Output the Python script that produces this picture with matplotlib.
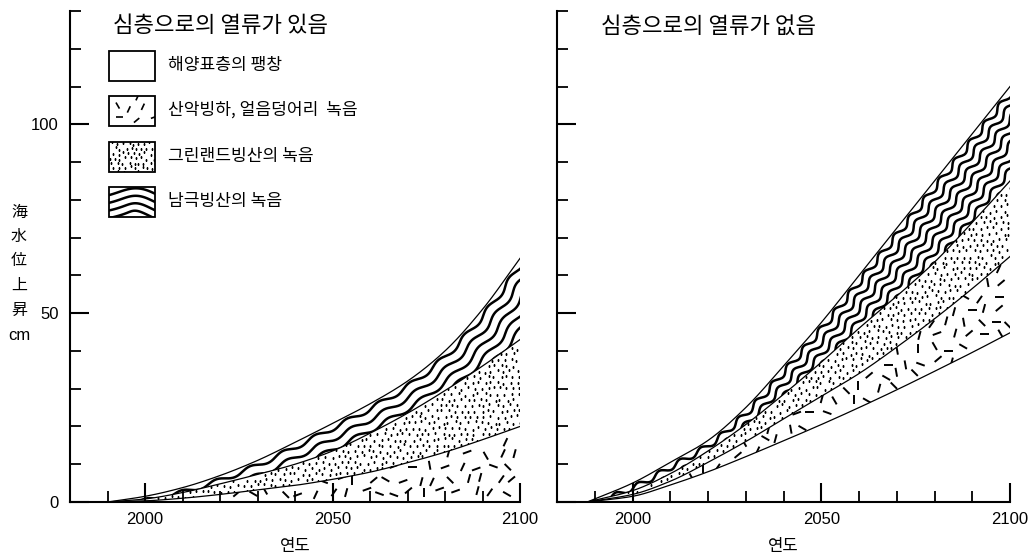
import numpy as np
import matplotlib
matplotlib.use("Agg")
import matplotlib.pyplot as plt
from matplotlib.path import Path
from matplotlib.collections import LineCollection
from matplotlib.patches import Rectangle
from matplotlib import font_manager

# ---------------- data (cumulative sea-level rise, cm) ----------------
years_left = [1990, 2000, 2010, 2020, 2030, 2040, 2050, 2060, 2070, 2080, 2090, 2100]
left_thermal_top = [0, 0, 0, 0, 0, 0, 0, 0, 0, 0, 0, 0]
left_glacier_top = [0, 0.3, 1.0, 2.0, 3.2, 4.4, 6.0, 7.9, 10.4, 13.2, 16.5, 20.0]
left_greenland_top = [0, 0.8, 2.5, 4.8, 7.3, 10.0, 13.5, 18.2, 23.5, 29.5, 36.0, 43.0]
left_antarctic_top = [0, 1.5, 3.8, 7.0, 11.0, 15.8, 20.8, 26.0, 32.0, 40.0, 51.0, 64.5]

years_right = [1988, 2000, 2010, 2020, 2030, 2040, 2050, 2060, 2070, 2080, 2090, 2100]
right_thermal_top = [0, 1.5, 4.5, 8.0, 12.0, 16.2, 20.5, 25.0, 29.7, 34.6, 39.6, 44.8]
right_glacier_top = [0, 2.0, 5.5, 10.5, 16.0, 22.0, 28.0, 34.0, 41.0, 48.5, 56.5, 65.0]
right_greenland_top = [0, 3.0, 7.5, 13.5, 20.5, 28.5, 37.0, 46.0, 54.5, 63.5, 74.0, 85.0]
right_antarctic_top = [0, 5.0, 10.5, 16.3, 25.0, 36.0, 47.5, 60.0, 72.5, 85.0, 97.5, 110.0]

titles = ["심층으로의 열류가 있음", "심층으로의 열류가 없음"]
legend_labels = ["해양표층의 팽창", "산악빙하, 얼음덩어리  녹음", "그린랜드빙산의 녹음", "남극빙산의 녹음"]
ylabel_chars = ["海", "水", "位", "上", "昇"]
ylabel_unit = "cm"
xlabel = "연도"
x_major = [2000, 2050, 2100]
y_major = [0, 50, 100]

# ---------------- fonts ----------------
avail = {f.name for f in font_manager.fontManager.ttflist}
KR = ["Noto Sans CJK KR", "DejaVu Sans"]
JP = ["Noto Sans CJK JP", "DejaVu Sans"]
NUM = "Liberation Sans Narrow" if "Liberation Sans Narrow" in avail else "Liberation Sans"

W, H = 1032, 560
fig = plt.figure(figsize=(W / 100, H / 100), dpi=100)


def hsh(i, j, k=0.0):
    """Deterministic hash in [0, 1) used for the texture layout."""
    v = np.sin(i * 12.9898 + j * 78.233 + k * 37.719) * 43758.5453
    return v - np.floor(v)


def smooth(xs, ys, n=500):
    """Monotone cubic (PCHIP) curve through the data points, for drawing."""
    x = np.asarray(xs, float)
    y = np.asarray(ys, float)
    h = np.diff(x)
    d = np.diff(y) / h
    m = np.zeros_like(y)
    for i in range(1, len(x) - 1):
        if d[i - 1] * d[i] <= 0:
            m[i] = 0.0
        else:
            w1 = 2 * h[i] + h[i - 1]
            w2 = h[i] + 2 * h[i - 1]
            m[i] = (w1 + w2) / (w1 / d[i - 1] + w2 / d[i])
    m[0] = d[0]
    m[-1] = d[-1]
    xx = np.linspace(x[0], x[-1], n)
    idx = np.clip(np.searchsorted(x, xx) - 1, 0, len(x) - 2)
    t = (xx - x[idx]) / h[idx]
    h00 = 2 * t**3 - 3 * t**2 + 1
    h10 = t**3 - 2 * t**2 + t
    h01 = -2 * t**3 + 3 * t**2
    h11 = t**3 - t**2
    yy = h00 * y[idx] + h10 * h[idx] * m[idx] + h01 * y[idx + 1] + h11 * h[idx] * m[idx + 1]
    return xx, yy


def add_dots(ax, verts, tr, spacing=6.5, ms=1.35):
    d = tr.transform(verts)
    dpath = Path(d)
    (x0, y0), (x1, y1) = d.min(0) - spacing, d.max(0) + spacing
    pts = []
    for j, y in enumerate(np.arange(y0, y1, spacing * 0.88)):
        off = spacing / 2 if j % 2 else 0.0
        for i, x in enumerate(np.arange(x0 + off, x1, spacing)):
            jx = (hsh(i, j, 1) - 0.5) * 3.2
            jy = (hsh(i, j, 2) - 0.5) * 3.2
            pts.append((x + jx, y + jy))
    pts = np.array(pts)
    pts = pts[dpath.contains_points(pts)]
    if len(pts) == 0:
        return
    pd = tr.inverted().transform(pts)
    ln, = ax.plot(pd[:, 0], pd[:, 1], "s", ms=ms, color="k", mec="none", zorder=2)
    ln.set_clip_path(Path(verts), tr)


ANGLES = [0, 40, 75, 100, 135, 160, 20, 90, 120, 55, 150, 65]


def add_dashes(ax, verts, tr, sx=16.0, sy=13.0, L=9.0, lw=1.4):
    d = tr.transform(verts)
    dpath = Path(d)
    (x0, y0), (x1, y1) = d.min(0) - sx, d.max(0) + sy
    segs = []
    for j, y in enumerate(np.arange(y0, y1, sy)):
        off = sx / 2 if j % 2 else 0.0
        for i, x in enumerate(np.arange(x0 + off, x1, sx)):
            cx = x + (hsh(i, j, 3) - 0.5) * 8.0
            cy = y + (hsh(i, j, 4) - 0.5) * 6.0
            if not dpath.contains_point((cx, cy)):
                continue
            a = np.deg2rad(ANGLES[int(hsh(i, j, 5) * len(ANGLES))])
            dx, dy = 0.5 * L * np.cos(a), 0.5 * L * np.sin(a)
            seg = np.array([(cx - dx, cy - dy), (cx + dx, cy + dy)])
            segs.append(tr.inverted().transform(seg))
    lc = LineCollection(segs, colors="k", linewidths=lw, zorder=2, capstyle="butt")
    lc.set_clip_path(Path(verts), tr)
    ax.add_collection(lc, autolim=False)


def add_waves(ax, verts, tr, guide, spacing=10.0, amp=2.2, period=30.0, lw=1.7, gap0=5.0, ext=60.0):
    g = tr.transform(guide)
    t0 = g[1] - g[0]
    t0 = t0 / np.hypot(*t0)
    t1 = g[-1] - g[-2]
    t1 = t1 / np.hypot(*t1)
    g = np.vstack([g[0] - ext * t0, g, g[-1] + ext * t1])
    seg = np.hypot(*np.diff(g, axis=0).T)
    s = np.concatenate([[0], np.cumsum(seg)])
    ss = np.arange(0, s[-1], 1.0)
    gx = np.interp(ss, s, g[:, 0])
    gy = np.interp(ss, s, g[:, 1])
    tx = np.gradient(gx)
    ty = np.gradient(gy)
    nn = np.hypot(tx, ty)
    tx, ty = tx / nn, ty / nn
    nx, ny = ty, -tx
    d = tr.transform(verts)
    span = (d[:, 1].max() - d[:, 1].min()) + (d[:, 0].max() - d[:, 0].min())
    nlines = int(span / spacing) + 2
    for k in range(nlines):
        off = gap0 + k * spacing + amp * np.sin(2 * np.pi * ss / period)
        px = gx + off * nx
        py = gy + off * ny
        dd = tr.inverted().transform(np.column_stack([px, py]))
        ln, = ax.plot(dd[:, 0], dd[:, 1], color="k", lw=lw, solid_capstyle="round", zorder=2)
        ln.set_clip_path(Path(verts), tr)


def band_verts(xx, lo, hi):
    return np.vstack([np.column_stack([xx, hi]), np.column_stack([xx[::-1], lo[::-1]])])


def draw_panel(ax, years, tops, wave_spacing, wave_period, wave_amp):
    curves = [smooth(years, t) for t in tops]
    xx = curves[0][0]
    levels = [np.zeros_like(xx)] + [c[1] for c in curves]
    tr = ax.transData
    kinds = ["none", "dash", "dot", "wave"]
    for i, kind in enumerate(kinds):
        lo, hi = levels[i], levels[i + 1]
        verts = band_verts(xx, lo, hi)
        if kind == "dash":
            add_dashes(ax, verts, tr)
        elif kind == "dot":
            add_dots(ax, verts, tr)
        elif kind == "wave":
            add_waves(ax, verts, tr, np.column_stack([xx, hi]), spacing=wave_spacing,
                      period=wave_period, lw=1.8, amp=wave_amp, gap0=4.5)
    for lev in levels[1:]:
        ax.plot(xx, lev, color="k", lw=0.9, zorder=3)


def style_axis(ax, show_ylabels):
    ax.set_xlim(1980, 2100)
    ax.set_ylim(0, 130)
    for sp in ["top", "right"]:
        ax.spines[sp].set_visible(False)
    for sp in ["left", "bottom"]:
        ax.spines[sp].set_linewidth(1.5)
    ax.set_xticks(x_major)
    ax.set_xticks(np.arange(1990, 2101, 10), minor=True)
    ax.set_yticks(y_major)
    ax.set_yticks(np.arange(10, 131, 10), minor=True)
    ax.tick_params(which="major", direction="in", length=14, width=1.5, labelsize=12, pad=7)
    ax.tick_params(which="minor", direction="in", length=8, width=1.3)
    ax.tick_params(axis="y", labelleft=show_ylabels, pad=8)
    for lab in ax.get_xticklabels() + ax.get_yticklabels():
        lab.set_fontfamily(NUM)
    ax.set_facecolor("none")


axL = fig.add_axes([70 / W, 58 / H, 450 / W, 491 / H])
axR = fig.add_axes([557 / W, 58 / H, 453 / W, 491 / H])
style_axis(axL, True)
style_axis(axR, False)

draw_panel(axL, years_left, [left_thermal_top, left_glacier_top, left_greenland_top, left_antarctic_top], 9.5, 36.0, 2.2)
draw_panel(axR, years_right, [right_thermal_top, right_glacier_top, right_greenland_top, right_antarctic_top], 8.0, 24.0, 2.6)

# ---------------- overlay for titles, legend, labels ----------------
ov = fig.add_axes([0, 0, 1, 1], zorder=5)
ov.set_xlim(0, W)
ov.set_ylim(H, 0)
ov.axis("off")

ov.text(113, 26, titles[0], fontfamily=KR, fontsize=16, ha="left", va="center")
ov.text(601, 26, titles[1], fontfamily=KR, fontsize=16, ha="left", va="center")

ov.text(295, 546, xlabel, fontfamily=KR, fontsize=12, ha="center", va="center")
ov.text(783, 546, xlabel, fontfamily=KR, fontsize=12, ha="center", va="center")

box_x, box_w, box_h = 109, 46, 30
box_tops = [51, 96, 142, 187]
otr = ov.transData
for k, (top, lab) in enumerate(zip(box_tops, legend_labels)):
    ov.add_patch(Rectangle((box_x, top), box_w, box_h, fill=False, lw=1.3, ec="k", zorder=4))
    verts = np.array([(box_x, top), (box_x + box_w, top), (box_x + box_w, top + box_h), (box_x, top + box_h)])
    if k == 1:
        add_dashes(ov, verts, otr, sx=14, sy=11, L=7, lw=1.2)
    elif k == 2:
        add_dots(ov, verts, otr, spacing=5.5, ms=1.3)
    elif k == 3:
        guide = np.array([(box_x + box_w * f, top + 6 - 5 * np.sin(np.pi * f)) for f in np.linspace(0, 1, 30)])
        add_waves(ov, verts, otr, guide, spacing=7.5, amp=1.2, period=60, lw=1.8, gap0=1.0, ext=10)
    ov.text(168, top + box_h / 2 - 1, lab, fontfamily=KR, fontsize=12.3, ha="left", va="center")

for i, ch in enumerate(ylabel_chars):
    ov.text(19, 212 + 24.5 * i, ch, fontfamily=JP, fontsize=11.5, ha="center", va="center")
ov.text(19, 335, ylabel_unit, fontfamily=NUM, fontsize=12, ha="center", va="center")

fig.savefig("out.png", dpi=100, facecolor="white")
